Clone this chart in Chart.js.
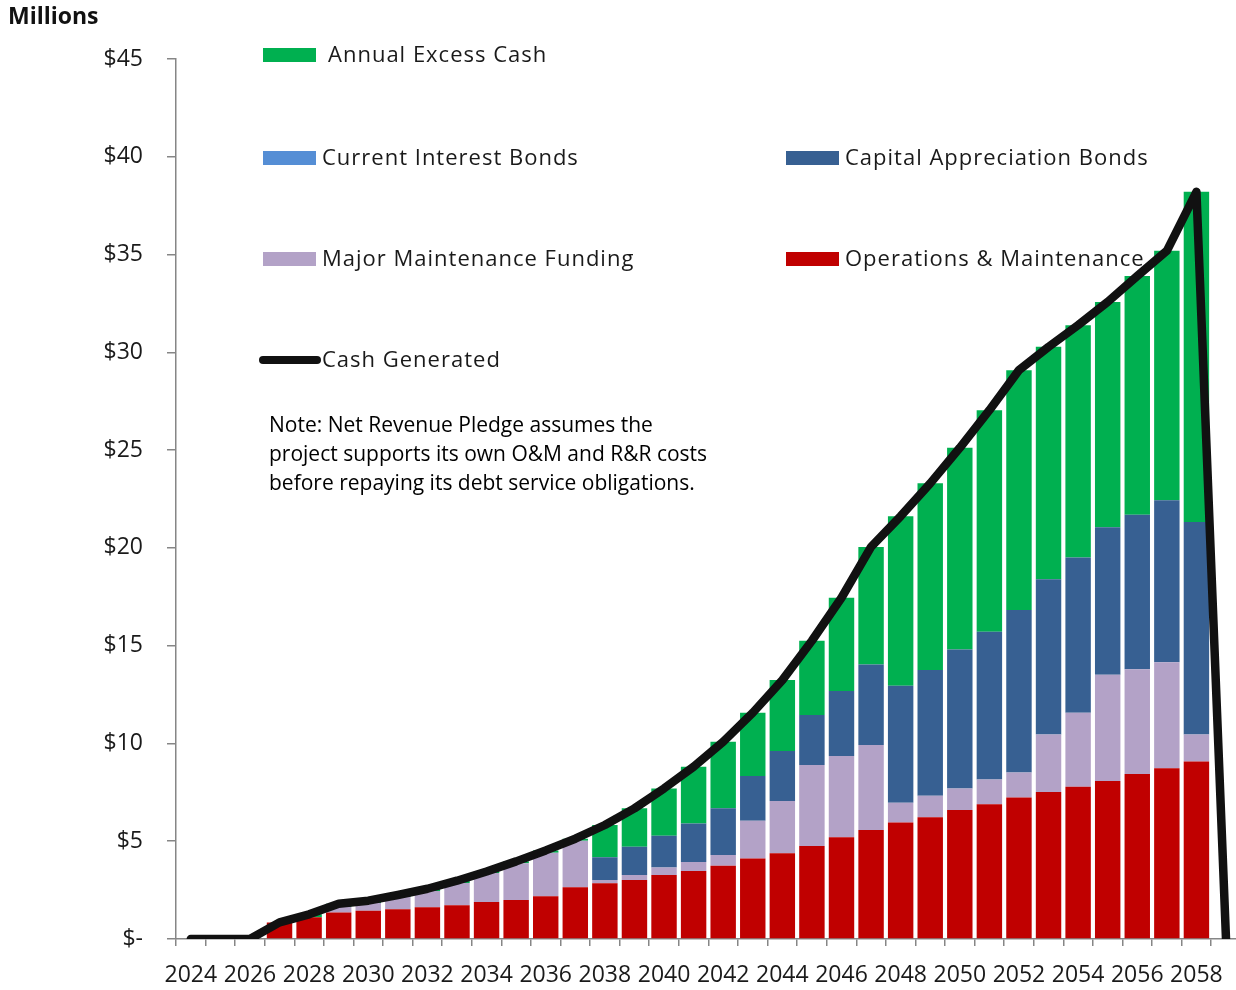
<!DOCTYPE html>
<html>
<head>
<meta charset="utf-8">
<title>Cash Generated</title>
<script src="https://cdn.jsdelivr.net/npm/chart.js@4"></script>
<style>
    html, body {
        margin: 0;
        padding: 0;
        background: #ffffff;
        overflow: hidden;
    }
    canvas {
        display: block;
    }
</style>
</head>
<body>
<canvas id="cash-chart" width="1242" height="990"></canvas>
<script>
// Values in $ millions, one per year
const years = ['2024', '2025', '2026', '2027', '2028', '2029', '2030', '2031', '2032', '2033',
    '2034', '2035', '2036', '2037', '2038', '2039', '2040', '2041', '2042', '2043',
    '2044', '2045', '2046', '2047', '2048', '2049', '2050', '2051', '2052', '2053',
    '2054', '2055', '2056', '2057', '2058', '2059'];

const operations = [0, 0, 0, 0.85, 1.11, 1.35, 1.45, 1.52, 1.62, 1.72,
    1.89, 1.99, 2.18, 2.64, 2.85, 3.02, 3.27, 3.48, 3.75, 4.12,
    4.38, 4.75, 5.20, 5.57, 5.96, 6.22, 6.60, 6.89, 7.24, 7.52,
    7.79, 8.08, 8.44, 8.73, 9.08, 0];

const majorMaintenance = [0, 0, 0, 0, 0, 0.28, 0.39, 0.63, 0.83, 1.14,
    1.48, 1.88, 2.23, 2.39, 0.17, 0.25, 0.38, 0.46, 0.54, 1.93,
    2.68, 4.15, 4.16, 4.35, 1.01, 1.11, 1.10, 1.27, 1.28, 2.94,
    3.78, 5.43, 5.35, 5.42, 1.38, 0];

const currentInterest = [0, 0, 0, 0, 0, 0, 0, 0, 0, 0,
    0, 0, 0, 0, 0, 0, 0, 0, 0, 0,
    0, 0, 0, 0, 0, 0, 0, 0, 0, 0,
    0, 0, 0, 0, 0, 0];

const capitalAppreciation = [0, 0, 0, 0, 0, 0, 0, 0, 0, 0,
    0, 0, 0, 0, 1.16, 1.45, 1.63, 1.97, 2.39, 2.28,
    2.55, 2.55, 3.32, 4.12, 5.98, 6.42, 7.11, 7.55, 8.30, 7.93,
    7.94, 7.54, 7.90, 8.29, 10.87, 0];

const excessCash = [0, 0, 0, 0, 0.15, 0.17, 0.12, 0.10, 0.12, 0.12,
    0.08, 0.10, 0.12, 0.10, 1.65, 1.96, 2.42, 2.90, 3.41, 3.24,
    3.63, 3.80, 4.77, 6.01, 8.67, 9.55, 10.31, 11.33, 12.27, 11.89,
    11.88, 11.53, 12.21, 12.75, 16.88, 0];

const cashGenerated = [0, 0, 0, 0.85, 1.26, 1.80, 1.96, 2.25, 2.57, 2.98,
    3.45, 3.97, 4.53, 5.13, 5.83, 6.68, 7.70, 8.81, 10.09, 11.57,
    13.24, 15.25, 17.45, 20.05, 21.62, 23.30, 25.12, 27.04, 29.09, 30.28,
    31.39, 32.58, 33.90, 35.19, 38.21, 0];

const noteLines = [
    'Note: Net Revenue Pledge assumes the',
    'project supports its own O&M and R&R costs',
    'before repaying its debt service obligations.'
];

const colors = {
    excess: '#00b050',
    current: '#558ed5',
    capital: '#376092',
    major: '#b3a2c7',
    operations: '#c00000',
    cash: '#111111',
    axis: '#868686',
    text: '#1a1a1a'
};

const app = {};

// Legend entries laid out in two columns, drawn by hand
app.legendItems = [
    { text: 'Annual Excess Cash', color: colors.excess, x: 263, y: 55, textX: 328 },
    { text: 'Current Interest Bonds', color: colors.current, x: 263, y: 158, textX: 322 },
    { text: 'Capital Appreciation Bonds', color: colors.capital, x: 786, y: 158, textX: 845 },
    { text: 'Major Maintenance Funding', color: colors.major, x: 263, y: 259, textX: 322 },
    { text: 'Operations & Maintenance', color: colors.operations, x: 786, y: 259, textX: 845 },
    { text: 'Cash Generated', color: colors.cash, x: 263, y: 360, textX: 322, line: true }
];

app.textPlugin = {
    id: 'chartText',
    beforeDatasetsDraw(chart) {
        const ctx = chart.ctx;
        ctx.save();

        // units label
        ctx.fillStyle = '#111111';
        ctx.font = 'bold 23px "Open Sans"';
        ctx.textBaseline = 'middle';
        ctx.textAlign = 'left';
        ctx.fillText('Millions', 8, 17);

        // legend
        ctx.font = '22px "Open Sans"';
        ctx.letterSpacing = '1px';
        app.legendItems.forEach((item) => {
            if (item.line) {
                ctx.strokeStyle = item.color;
                ctx.lineWidth = 8;
                ctx.lineCap = 'round';
                ctx.beginPath();
                ctx.moveTo(item.x, item.y);
                ctx.lineTo(item.x + 54, item.y);
                ctx.stroke();
            } else {
                ctx.fillStyle = item.color;
                ctx.fillRect(item.x, item.y - 7, 53, 14);
            }
            ctx.fillStyle = colors.text;
            ctx.fillText(item.text, item.textX, item.y + 1);
        });

        // note
        ctx.letterSpacing = '0px';
        ctx.font = '21px "Open Sans"';
        ctx.fillStyle = '#000000';
        noteLines.forEach((line, i) => {
            ctx.fillText(line, 269, 426 + i * 29);
        });

        ctx.restore();
    }
};

app.barSet = (label, data, color) => {
    return {
        type: 'bar',
        label: label,
        data: data,
        backgroundColor: color,
        borderWidth: 0,
        barPercentage: 0.86,
        categoryPercentage: 1,
        order: 1,
        stack: 'uses'
    };
};

app.buildChart = () => {
    const data = {
        labels: years,
        datasets: [
            {
                type: 'line',
                label: 'Cash Generated',
                data: cashGenerated,
                borderColor: colors.cash,
                borderWidth: 8.5,
                borderCapStyle: 'round',
                borderJoinStyle: 'round',
                pointRadius: 0,
                tension: 0,
                fill: false,
                order: 0,
                stack: 'cash'
            },
            app.barSet('Operations & Maintenance', operations, colors.operations),
            app.barSet('Major Maintenance Funding', majorMaintenance, colors.major),
            app.barSet('Current Interest Bonds', currentInterest, colors.current),
            app.barSet('Capital Appreciation Bonds', capitalAppreciation, colors.capital),
            app.barSet('Annual Excess Cash', excessCash, colors.excess)
        ]
    };

    const config = {
        type: 'bar',
        data: data,
        plugins: [app.textPlugin],
        options: {
            responsive: false,
            animation: false,
            devicePixelRatio: 1,
            layout: {
                padding: { top: 59, right: 0, bottom: 0, left: 0 }
            },
            plugins: {
                legend: { display: false },
                tooltip: { enabled: false }
            },
            scales: {
                x: {
                    stacked: true,
                    offset: true,
                    afterFit: (scale) => { scale.height = 51; },
                    border: { color: colors.axis, width: 1.5 },
                    grid: {
                        offset: true,
                        drawOnChartArea: false,
                        drawTicks: true,
                        tickLength: 7,
                        color: colors.axis,
                        lineWidth: 1.5
                    },
                    ticks: {
                        autoSkip: false,
                        maxRotation: 0,
                        padding: 16,
                        color: colors.text,
                        font: { family: 'Open Sans', size: 23 },
                        callback: (value, index) => index % 2 === 0 ? years[index] : ''
                    }
                },
                y: {
                    stacked: true,
                    min: 0,
                    max: 45,
                    afterFit: (scale) => { scale.width = 176; },
                    border: { color: colors.axis, width: 1.5 },
                    grid: {
                        drawOnChartArea: false,
                        drawTicks: true,
                        tickLength: 9,
                        color: colors.axis,
                        lineWidth: 1.5
                    },
                    ticks: {
                        stepSize: 5,
                        padding: 24,
                        color: colors.text,
                        font: { family: 'Open Sans', size: 23 },
                        callback: (value) => value === 0 ? '$-' : '$' + value
                    }
                }
            }
        }
    };

    app.chart = new Chart(document.getElementById('cash-chart'), config);
};

app.init = () => {
    app.buildChart();
};

app.init();
</script>
</body>
</html>
